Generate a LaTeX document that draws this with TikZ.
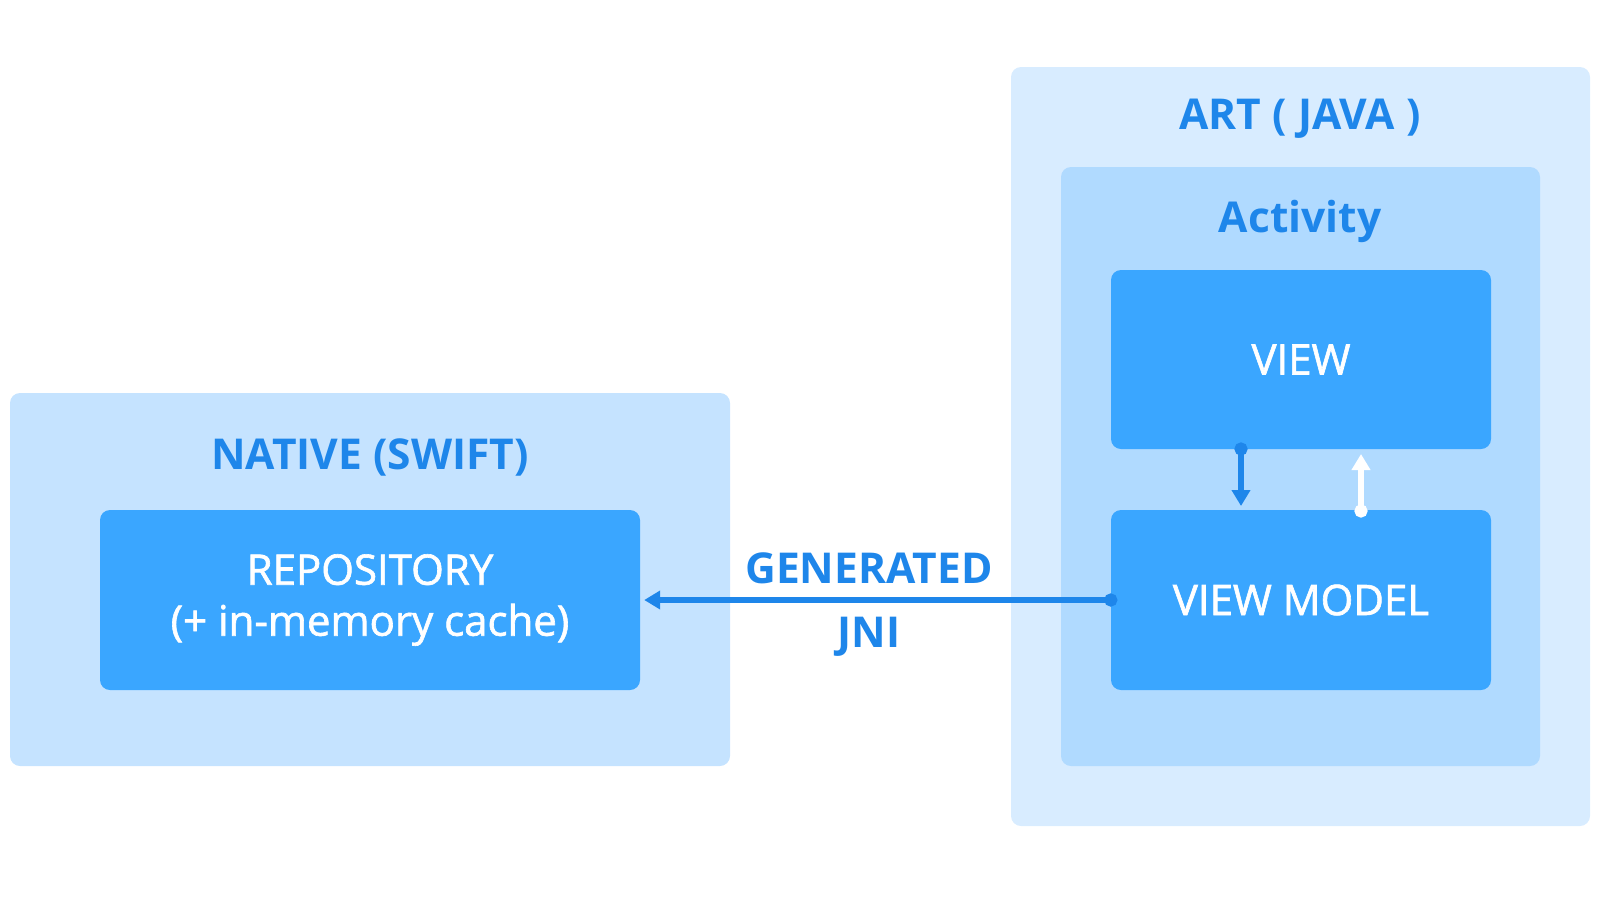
\documentclass[tikz,border=0pt]{standalone}
\usepackage{fontspec}
\setmainfont{Open Sans}
\newfontfamily\boxfont[FakeBold=1.5]{Open Sans}
\usepackage{xcolor}
\definecolor{nativeBg}{HTML}{C5E3FF}
\definecolor{artBg}{HTML}{D8ECFF}
\definecolor{activityBg}{HTML}{B0DAFF}
\definecolor{boxBlue}{HTML}{3AA6FF}
\definecolor{titleBlue}{HTML}{1E86EA}
\usepackage{tikz}
\usetikzlibrary{arrows.meta, positioning}

\begin{document}
\begin{tikzpicture}[
		x=1pt, y=-1pt,
		area/.style={
			rounded corners=10pt,
			inner sep=0pt
		},
		block/.style={
			fill=boxBlue,
			rounded corners=10pt,
			text=white,
			align=center,
			font=\boxfont\fontsize{42}{51}\selectfont
		},
		title/.style={
			text=titleBlue,
			font=\fontsize{42.5}{50}\selectfont\bfseries
		},
		link/.style={line width=5.5pt, {Circle[length=13pt]}-{Triangle[length=16pt, width=18pt]}}
		]
		
		\useasboundingbox (0,0) rectangle (1600,900);
		
		% containers
		\node[area, fill=nativeBg, minimum width=720pt, minimum height=373pt] (native) at (370,579.5) {};
		\node[area, fill=artBg, minimum width=579pt, minimum height=759pt] (art) at (1300.5,446.5) {};
		\node[area, fill=activityBg, minimum width=479pt, minimum height=599pt] (activity) at (1300.5,466.5) {};
		
		\node[title] (nativeTitle) at (370,457) {NATIVE (SWIFT)};
		\node[title] (artTitle) at (1300,118.5) {ART ( JAVA )};
		\node[title] (activityTitle) at (1300,221) {Activity};
		
		% blocks
		\node[block, minimum width=540pt, minimum height=180pt] (repo) at (370,600) {REPOSITORY\\(+ in-memory cache)};
		\node[block, minimum width=380pt, minimum height=179pt] (view) at (1301,359.5) {VIEW};
		\node[block, minimum width=380pt, minimum height=180pt] (vm) at (1301,600) {VIEW MODEL};
		
		% connector ends
		\coordinate (downTop) at (1241,442.5);
		\coordinate (downEnd) at (1241,506);
		\coordinate (upBottom) at (1361,517.5);
		\coordinate (upEnd) at (1361,454);
		\coordinate (vmStart) at ([xshift=6.5pt]vm.west);
		\coordinate (repoEnd) at ([xshift=4pt]repo.east);
		
		\draw[link, titleBlue] (downTop) -- (downEnd);
		\draw[link, white] (upBottom) -- (upEnd);
		\draw[link, titleBlue, line width=6pt] (vmStart) -- (repoEnd);
		
		\node[title, anchor=base] (generated) at (869,583) {GENERATED};
		\node[title, anchor=base] (jni) at (869,647) {JNI};
		
	\end{tikzpicture}
\end{document}
